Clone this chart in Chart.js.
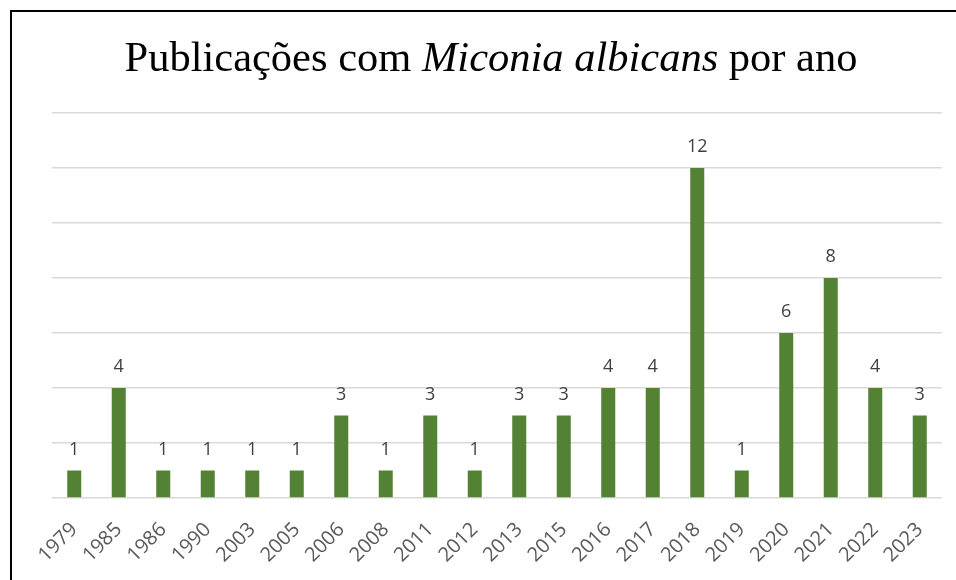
<!DOCTYPE html>
<html>
<head>
<meta charset="utf-8">
<script src="https://cdn.jsdelivr.net/npm/chart.js@4/dist/chart.umd.min.js"></script>
<style>
  html, body { margin: 0; padding: 0; background: #fff; }
  #wrap { width: 956px; height: 580px; position: relative; }
</style>
</head>
<body>
<div id="wrap"><canvas id="c" width="956" height="580"></canvas></div>
<script>
// Publication counts per year
const years = ['1979','1985','1986','1990','2003','2005','2006','2008','2011','2012',
               '2013','2015','2016','2017','2018','2019','2020','2021','2022','2023'];
const publications = [1, 4, 1, 1, 1, 1, 3, 1, 3, 1, 3, 3, 4, 4, 12, 1, 6, 8, 4, 3];
const yTicks = [0, 2, 4, 6, 8, 10, 12, 14];

const titleParts = [
  { text: 'Publicações com ', style: 'normal' },
  { text: 'Miconia albicans', style: 'italic' },
  { text: ' por ano', style: 'normal' }
];

// Frame lines along the top and left edges
const framePlugin = {
  id: 'frame',
  afterDraw(chart) {
    const ctx = chart.ctx;
    ctx.save();
    ctx.strokeStyle = '#000';
    ctx.lineWidth = 2;
    ctx.beginPath();
    ctx.moveTo(11, 580);
    ctx.lineTo(11, 11);
    ctx.lineTo(956, 11);
    ctx.stroke();
    ctx.restore();
  }
};

// Title with an italic species name
const mixedTitlePlugin = {
  id: 'mixedTitle',
  afterDraw(chart) {
    const ctx = chart.ctx;
    const size = 42.5;
    ctx.save();
    ctx.fillStyle = '#000';
    ctx.textBaseline = 'alphabetic';
    let total = 0;
    const widths = titleParts.map(p => {
      ctx.font = `${p.style} ${size}px "Liberation Serif", "Times New Roman", serif`;
      const w = ctx.measureText(p.text).width;
      total += w;
      return w;
    });
    let x = 491 - total / 2;
    titleParts.forEach((p, i) => {
      ctx.font = `${p.style} ${size}px "Liberation Serif", "Times New Roman", serif`;
      ctx.fillText(p.text, x, 71);
      x += widths[i];
    });
    ctx.restore();
  }
};

// Value labels above each bar
const valueLabelPlugin = {
  id: 'valueLabels',
  afterDatasetsDraw(chart) {
    const ctx = chart.ctx;
    const meta = chart.getDatasetMeta(0);
    ctx.save();
    ctx.font = '18px "Open Sans", sans-serif';
    ctx.fillStyle = '#404040';
    ctx.textAlign = 'center';
    ctx.textBaseline = 'bottom';
    meta.data.forEach((bar, i) => {
      ctx.fillText(String(publications[i]), bar.x, bar.y - 12);
    });
    ctx.restore();
  }
};

new Chart(document.getElementById('c'), {
  type: 'bar',
  data: {
    labels: years,
    datasets: [{
      data: publications,
      backgroundColor: '#548235',
      borderWidth: 0,
      categoryPercentage: 1,
      barPercentage: 0.315
    }]
  },
  options: {
    responsive: false,
    animation: false,
    devicePixelRatio: 1,
    layout: { padding: { top: 113, left: 0, right: 14, bottom: 0 } },
    plugins: {
      legend: { display: false },
      title: { display: false },
      tooltip: { enabled: false }
    },
    scales: {
      y: {
        min: 0,
        max: 14,
        afterBuildTicks(scale) { scale.ticks = yTicks.map(v => ({ value: v })); },
        afterFit(scale) { scale.width = 52; },
        ticks: { display: false },
        border: { display: false },
        grid: { color: '#d9d9d9', lineWidth: 1.5, drawTicks: false }
      },
      x: {
        afterFit(scale) { scale.height = 82; },
        grid: { display: false },
        border: { display: false },
        ticks: {
          minRotation: 45,
          maxRotation: 45,
          autoSkip: false,
          padding: 12,
          color: '#595959',
          font: { family: '"Open Sans", sans-serif', size: 20 }
        }
      }
    }
  },
  plugins: [framePlugin, mixedTitlePlugin, valueLabelPlugin]
});
</script>
</body>
</html>
